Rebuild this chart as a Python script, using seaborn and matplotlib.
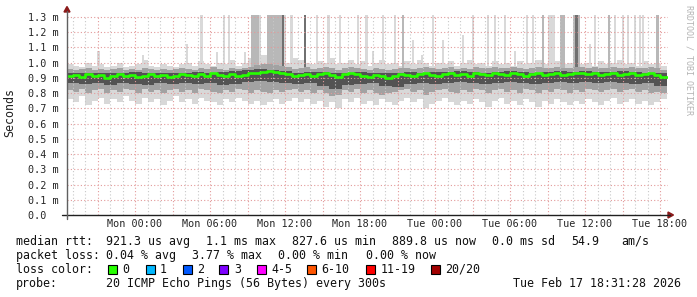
import numpy as np
import pandas as pd
import matplotlib
matplotlib.use("Agg")
import matplotlib.pyplot as plt
import seaborn as sns
from matplotlib.lines import Line2D
from matplotlib.patches import Polygon, Rectangle

# ---------------- data ----------------
start_h = -5.475          # first sample: Sun 18:31:28, hours relative to Mon 00:00
step_h = 0.5              # half-hour bins
core_step_h = 1.0         # hourly bins for the dense core

median_ms = [0.915, 0.92, 0.905, 0.925, 0.91, 0.92, 0.90, 0.915, 0.925, 0.91,
             0.92, 0.905, 0.915, 0.925, 0.91, 0.92, 0.905, 0.915, 0.925, 0.92,
             0.91, 0.925, 0.915, 0.93, 0.92, 0.91, 0.925, 0.915, 0.92, 0.93,
             0.935, 0.94, 0.945, 0.94, 0.935, 0.925, 0.91, 0.92, 0.925, 0.915,
             0.925, 0.93, 0.92, 0.905, 0.925, 0.93, 0.925, 0.915, 0.905, 0.92,
             0.915, 0.90, 0.91, 0.925, 0.92, 0.915, 0.925, 0.93, 0.92, 0.915,
             0.925, 0.93, 0.92, 0.925, 0.915, 0.93, 0.925, 0.92, 0.93, 0.925,
             0.92, 0.93, 0.925, 0.915, 0.925, 0.93, 0.92, 0.925, 0.93, 0.92,
             0.925, 0.93, 0.935, 0.925, 0.93, 0.92, 0.925, 0.93, 0.92, 0.925,
             0.93, 0.92, 0.925, 0.93, 0.92, 0.905]

max_ms = [0.99, 0.98, 0.97, 1.0, 0.98, 0.99, 0.97, 0.98, 1.0, 0.97,
          0.98, 0.99, 1.02, 0.98, 0.97, 0.99, 0.98, 0.97, 0.99, 1.0,
          0.98, 1.01, 0.99, 0.98, 1.0, 0.99, 1.02, 0.98, 1.0, 1.03,
          1.04, 1.05, 1.03, 1.04, 1.02, 1.0, 1.03, 1.02, 1.0, 0.99,
          1.01, 1.0, 1.03, 0.99, 1.0, 1.02, 0.99, 1.01, 0.98, 1.0,
          1.02, 0.99, 1.0, 0.98, 1.01, 0.99, 1.02, 1.0, 0.98, 1.0,
          0.99, 1.01, 0.98, 1.0, 1.02, 0.99, 1.0, 0.98, 1.01, 0.99,
          1.0, 0.98, 1.01, 0.99, 1.0, 1.02, 0.99, 1.0, 1.01, 0.99,
          1.0, 1.02, 0.99, 1.0, 0.98, 1.01, 0.99, 1.0, 1.02, 0.99,
          1.0, 0.98, 1.01, 0.99, 1.0, 0.98]

min_ms = [0.76, 0.74, 0.78, 0.72, 0.75, 0.77, 0.73, 0.76, 0.74, 0.78,
          0.75, 0.73, 0.77, 0.74, 0.76, 0.72, 0.75, 0.78, 0.74, 0.76,
          0.73, 0.77, 0.75, 0.74, 0.72, 0.76, 0.74, 0.77, 0.75, 0.73,
          0.75, 0.72, 0.74, 0.76, 0.73, 0.75, 0.77, 0.74, 0.76, 0.73,
          0.75, 0.71, 0.74, 0.70, 0.76, 0.74, 0.77, 0.73, 0.75, 0.72,
          0.76, 0.74, 0.72, 0.75, 0.77, 0.74, 0.76, 0.70, 0.73, 0.75,
          0.77, 0.74, 0.72, 0.75, 0.73, 0.76, 0.74, 0.71, 0.75, 0.77,
          0.73, 0.75, 0.72, 0.76, 0.74, 0.71, 0.75, 0.73, 0.76, 0.74,
          0.72, 0.75, 0.73, 0.76, 0.74, 0.72, 0.75, 0.77, 0.73, 0.74,
          0.76, 0.73, 0.75, 0.72, 0.74, 0.76]

band_hi_ms = [0.96, 0.955, 0.96, 0.965, 0.955, 0.96, 0.95, 0.96, 0.965, 0.955,
              0.96, 0.955, 0.965, 0.96, 0.955, 0.96, 0.955, 0.96, 0.965, 0.96,
              0.955, 0.965, 0.96, 0.97, 0.96, 0.955, 0.965, 0.96, 0.965, 0.975,
              0.985, 0.99, 0.99, 0.985, 0.98, 0.97, 0.96, 0.965, 0.97, 0.96,
              0.965, 0.97, 0.965, 0.955, 0.965, 0.97, 0.965, 0.96, 0.955, 0.965,
              0.96, 0.95, 0.96, 0.965, 0.965, 0.96, 0.965, 0.97, 0.965, 0.96,
              0.965, 0.97, 0.96, 0.965, 0.96, 0.97, 0.965, 0.965, 0.97, 0.965,
              0.965, 0.97, 0.965, 0.96, 0.965, 0.97, 0.965, 0.965, 0.97, 0.965,
              0.965, 0.97, 0.975, 0.965, 0.97, 0.965, 0.965, 0.97, 0.965, 0.965,
              0.97, 0.965, 0.965, 0.97, 0.965, 0.955]

band_lo_ms = [0.82, 0.81, 0.83, 0.80, 0.82, 0.83, 0.80, 0.82, 0.81, 0.83,
              0.82, 0.80, 0.83, 0.81, 0.82, 0.80, 0.82, 0.83, 0.81, 0.82,
              0.80, 0.83, 0.82, 0.81, 0.80, 0.82, 0.81, 0.83, 0.82, 0.80,
              0.82, 0.81, 0.80, 0.82, 0.81, 0.82, 0.83, 0.81, 0.82, 0.80,
              0.82, 0.80, 0.78, 0.79, 0.82, 0.81, 0.83, 0.80, 0.82, 0.80,
              0.79, 0.80, 0.81, 0.82, 0.83, 0.81, 0.82, 0.79, 0.81, 0.82,
              0.83, 0.81, 0.80, 0.82, 0.81, 0.83, 0.82, 0.80, 0.82, 0.83,
              0.81, 0.82, 0.80, 0.83, 0.82, 0.80, 0.82, 0.81, 0.83, 0.82,
              0.80, 0.82, 0.81, 0.83, 0.82, 0.81, 0.82, 0.83, 0.81, 0.82,
              0.83, 0.81, 0.82, 0.80, 0.81, 0.80]

core_hi_ms = [0.935, 0.93, 0.935, 0.93, 0.935, 0.94, 0.93, 0.935, 0.93, 0.935,
              0.94, 0.935, 0.94, 0.945, 0.95, 0.96, 0.955, 0.945, 0.935, 0.94,
              0.94, 0.935, 0.93, 0.94, 0.935, 0.93, 0.935, 0.94, 0.935, 0.94,
              0.94, 0.945, 0.94, 0.935, 0.94, 0.945, 0.94, 0.935, 0.94, 0.945,
              0.94, 0.945, 0.94, 0.94, 0.945, 0.94, 0.935, 0.93]

core_lo_ms = [0.865, 0.86, 0.865, 0.855, 0.865, 0.86, 0.855, 0.865, 0.86, 0.865,
              0.86, 0.865, 0.855, 0.86, 0.87, 0.88, 0.875, 0.865, 0.86, 0.865,
              0.85, 0.83, 0.855, 0.86, 0.865, 0.845, 0.84, 0.86, 0.865, 0.86,
              0.865, 0.87, 0.865, 0.86, 0.865, 0.87, 0.865, 0.86, 0.865, 0.87,
              0.865, 0.87, 0.865, 0.87, 0.865, 0.86, 0.865, 0.85]

# isolated high readings (time in hours rel. Mon 00:00, top value, pings involved)
spike_h = [5.32, 7.12, 7.52, 9.40, 9.60, 9.80, 10.0, 10.64, 10.84, 11.04, 11.24,
           11.44, 11.64, 11.84, 12.0, 12.52, 13.6, 13.6, 14.56, 15.48, 16.4, 17.84,
           18.52, 19.84, 20.8, 21.44, 23.84, 27.04, 28.24, 28.8, 29.6, 31.36, 31.84,
           32.64, 33.1, 33.3, 33.5, 34.12, 34.32, 35.1, 35.32, 35.52, 36.8, 37.92,
           38.4, 39.04, 39.44, 40.0, 40.4, 40.64, 41.8,
           -2.92, 0.64, 4.16, 6.56, 8.8, 19.04, 22.24, 22.96, 24.64, 26.24,
           30.4, 36.4]
spike_top_ms = [1.35] * 51 + [1.08, 1.05, 1.12, 1.07, 1.07, 1.08, 1.15, 1.05,
                              1.15, 1.18, 1.08, 1.12]
spike_pings = [1, 1, 1, 2, 2, 2, 1, 2, 2, 2, 2,
               2, 2, 3, 1, 1, 1, 3, 1, 1, 1, 1,
               1, 1, 1, 2, 1, 1, 1, 1, 1, 1, 1,
               2, 1, 1, 1, 2, 2, 2, 3, 2, 1, 2,
               1, 1, 1, 1, 1, 1, 2,
               1, 1, 1, 1, 1, 1, 1, 1, 1, 1,
               1, 1]

tick_hours = [0, 6, 12, 18, 24, 30, 36, 42]
tick_labels = ["Mon 00:00", "Mon 06:00", "Mon 12:00", "Mon 18:00",
               "Tue 00:00", "Tue 06:00", "Tue 12:00", "Tue 18:00"]
ytick_values = [0.0, 0.1, 0.2, 0.3, 0.4, 0.5, 0.6, 0.7, 0.8, 0.9, 1.0, 1.1, 1.2, 1.3]
ytick_labels = ["0.0  ", "0.1 m", "0.2 m", "0.3 m", "0.4 m", "0.5 m", "0.6 m",
                "0.7 m", "0.8 m", "0.9 m", "1.0 m", "1.1 m", "1.2 m", "1.3 m"]

loss_labels = ["0", "1", "2", "3", "4-5", "6-10", "11-19", "20/20"]
loss_colors = ["#26ff00", "#00b8ff", "#0059ff", "#7e00ff", "#ff00ff",
               "#ff5500", "#ff0000", "#a10000"]

rtt_items = ["median rtt:", "921.3 us avg", "1.1 ms max", "827.6 us min",
             "889.8 us now", "0.0 ms sd", "54.9", "am/s"]
loss_items = ["packet loss:", "0.04 % avg", "3.77 % max", "0.00 % min", "0.00 % now"]
probe_items = ["probe:", "20 ICMP Echo Pings (56 Bytes) every 300s",
               "Tue Feb 17 18:31:28 2026"]

# ---------------- figure ----------------
sns.set_theme(style="white")
plt.rcParams["font.family"] = ["DejaVu Sans Mono", "DejaVu Sans"]

W, H = 697, 297
fig = plt.figure(figsize=(W / 100, H / 100), dpi=100)
fig.patch.set_facecolor("white")

def fx(px):
    return px / W

def fy(py):
    return 1 - py / H

ax = fig.add_axes([fx(67), fy(215), fx(668) - fx(67), fy(15) - fy(215)])
ax.set_facecolor("white")
xmin, xmax = -5.44, 42.64
ymax = 200 / 152.3
ax.set_xlim(xmin, xmax)
ax.set_ylim(0, ymax)

n = len(median_ms)
t = start_h + step_h * np.arange(n + 1)
def ext(a):
    return np.append(np.asarray(a, float), a[-1])

df = pd.DataFrame({"t": t, "median": ext(median_ms), "mx": ext(max_ms),
                   "mn": ext(min_ms), "bh": ext(band_hi_ms), "bl": ext(band_lo_ms)})
tc = start_h + core_step_h * np.arange(len(core_hi_ms) + 1)
dfc = pd.DataFrame({"t": tc, "hi": ext(core_hi_ms), "lo": ext(core_lo_ms)})
dfc = dfc[dfc["t"] <= t[-1] + 1e-9]

# outer smoke
ax.fill_between(df["t"], df["mn"], df["mx"], step="post", color="#d8d8d8", lw=0, zorder=1)
# spikes
shade = {1: "#d9d9d9", 2: "#b8b8b8", 3: "#707070"}
sp = pd.DataFrame({"h": spike_h, "top": spike_top_ms, "p": spike_pings}).sort_values("p")
for p, grp in sp.groupby("p"):
    ax.bar(grp["h"], grp["top"] - 0.95, bottom=0.95, width=0.2,
           color=shade[p], lw=0, zorder=1.1 + 0.01 * p)
# middle smoke
ax.fill_between(df["t"], df["bl"], df["bh"], step="post", color="#a2a2a2", lw=0, zorder=1.2)
# core smoke
ax.fill_between(dfc["t"], dfc["lo"], dfc["hi"], step="post", color="#535353", lw=0, zorder=1.3)

# median
sns.lineplot(data=df, x="t", y="median", ax=ax, drawstyle="steps-post",
             color=loss_colors[0], lw=1.9, zorder=3, legend=False)

# grid
for h in np.arange(-5, 43, 1):
    if h % 3 == 0:
        continue
    ax.axvline(h, color="#c8c8c8", lw=0.8, ls=(0, (1, 2)), zorder=2.5)
for h in np.arange(-3, 43, 3):
    ax.axvline(h, color="#e39a9a", lw=0.8, ls=(0, (1, 2)), zorder=2.6)
for v in ytick_values[1:]:
    ax.axhline(v, color="#e39a9a", lw=0.8, ls=(0, (1, 2)), zorder=2.6)

ax.set_xticks(tick_hours)
ax.set_xticklabels(tick_labels, fontsize=7.3)
ax.set_yticks(ytick_values)
ax.set_yticklabels(ytick_labels, fontsize=7.3)
ax.tick_params(axis="x", length=2.5, width=0.8, color="#d04040", pad=0.5)
ax.tick_params(axis="y", length=2.5, width=0.8, color="#d04040", pad=3.5)
ax.set_xlabel("")
ax.set_ylabel("")
for s in ax.spines.values():
    s.set_visible(False)

# axes lines + arrows
fig.add_artist(Line2D([fx(62), fx(670)], [fy(215), fy(215)], color="#202020", lw=1.0))
fig.add_artist(Line2D([fx(67), fx(67)], [fy(219), fy(11)], color="#606060", lw=1.0))
fig.add_artist(Polygon([[fx(64), fy(12)], [fx(70), fy(12)], [fx(67), fy(6.5)]],
                       closed=True, color="#8b1a1a", transform=fig.transFigure))
fig.add_artist(Polygon([[fx(668), fy(212)], [fx(668), fy(218)], [fx(673.5), fy(215)]],
                       closed=True, color="#8b1a1a", transform=fig.transFigure))

# labels
fig.text(fx(10), fy(113), "Seconds", rotation=90, ha="center", va="center",
         fontsize=8.4, color="#202020")
fig.text(fx(688.5), fy(5), "RRDTOOL / TOBI OETIKER", rotation=270, ha="center",
         va="top", fontsize=6.0, color="#b4b4b4")

FS = 8.4
line_y = [241.5, 255.5, 269.5, 283.5]
rtt_x = [16, 106.5, 206, 292, 392, 492, 571, 621]
loss_x = [16, 106.5, 192, 278.5, 365.5]
probe_x = [16, 106.5, 513]
for xs, items, y in [(rtt_x, rtt_items, line_y[0]), (loss_x, loss_items, line_y[1]),
                     (probe_x, probe_items, line_y[3])]:
    for px, s in zip(xs, items):
        fig.text(fx(px), fy(y), s, ha="left", va="center", fontsize=FS, color="#101010")
fig.text(fx(16), fy(line_y[2]), "loss color:", ha="left", va="center", fontsize=FS,
         color="#101010")

box_x = [108, 145.5, 183, 219, 257, 307, 366, 431]
lab_x = [122.5, 160, 197.5, 234, 271.5, 321.5, 380.5, 445.5]
for bx, lx, lab, col in zip(box_x, lab_x, loss_labels, loss_colors):
    fig.add_artist(Rectangle((fx(bx), fy(274)), fx(9), 9 / H, transform=fig.transFigure,
                             facecolor=col, edgecolor="black", lw=0.8))
    fig.text(fx(lx), fy(line_y[2]), lab, ha="left", va="center", fontsize=FS,
             color="#101010")

fig.savefig("out.png", dpi=100, facecolor="white")
